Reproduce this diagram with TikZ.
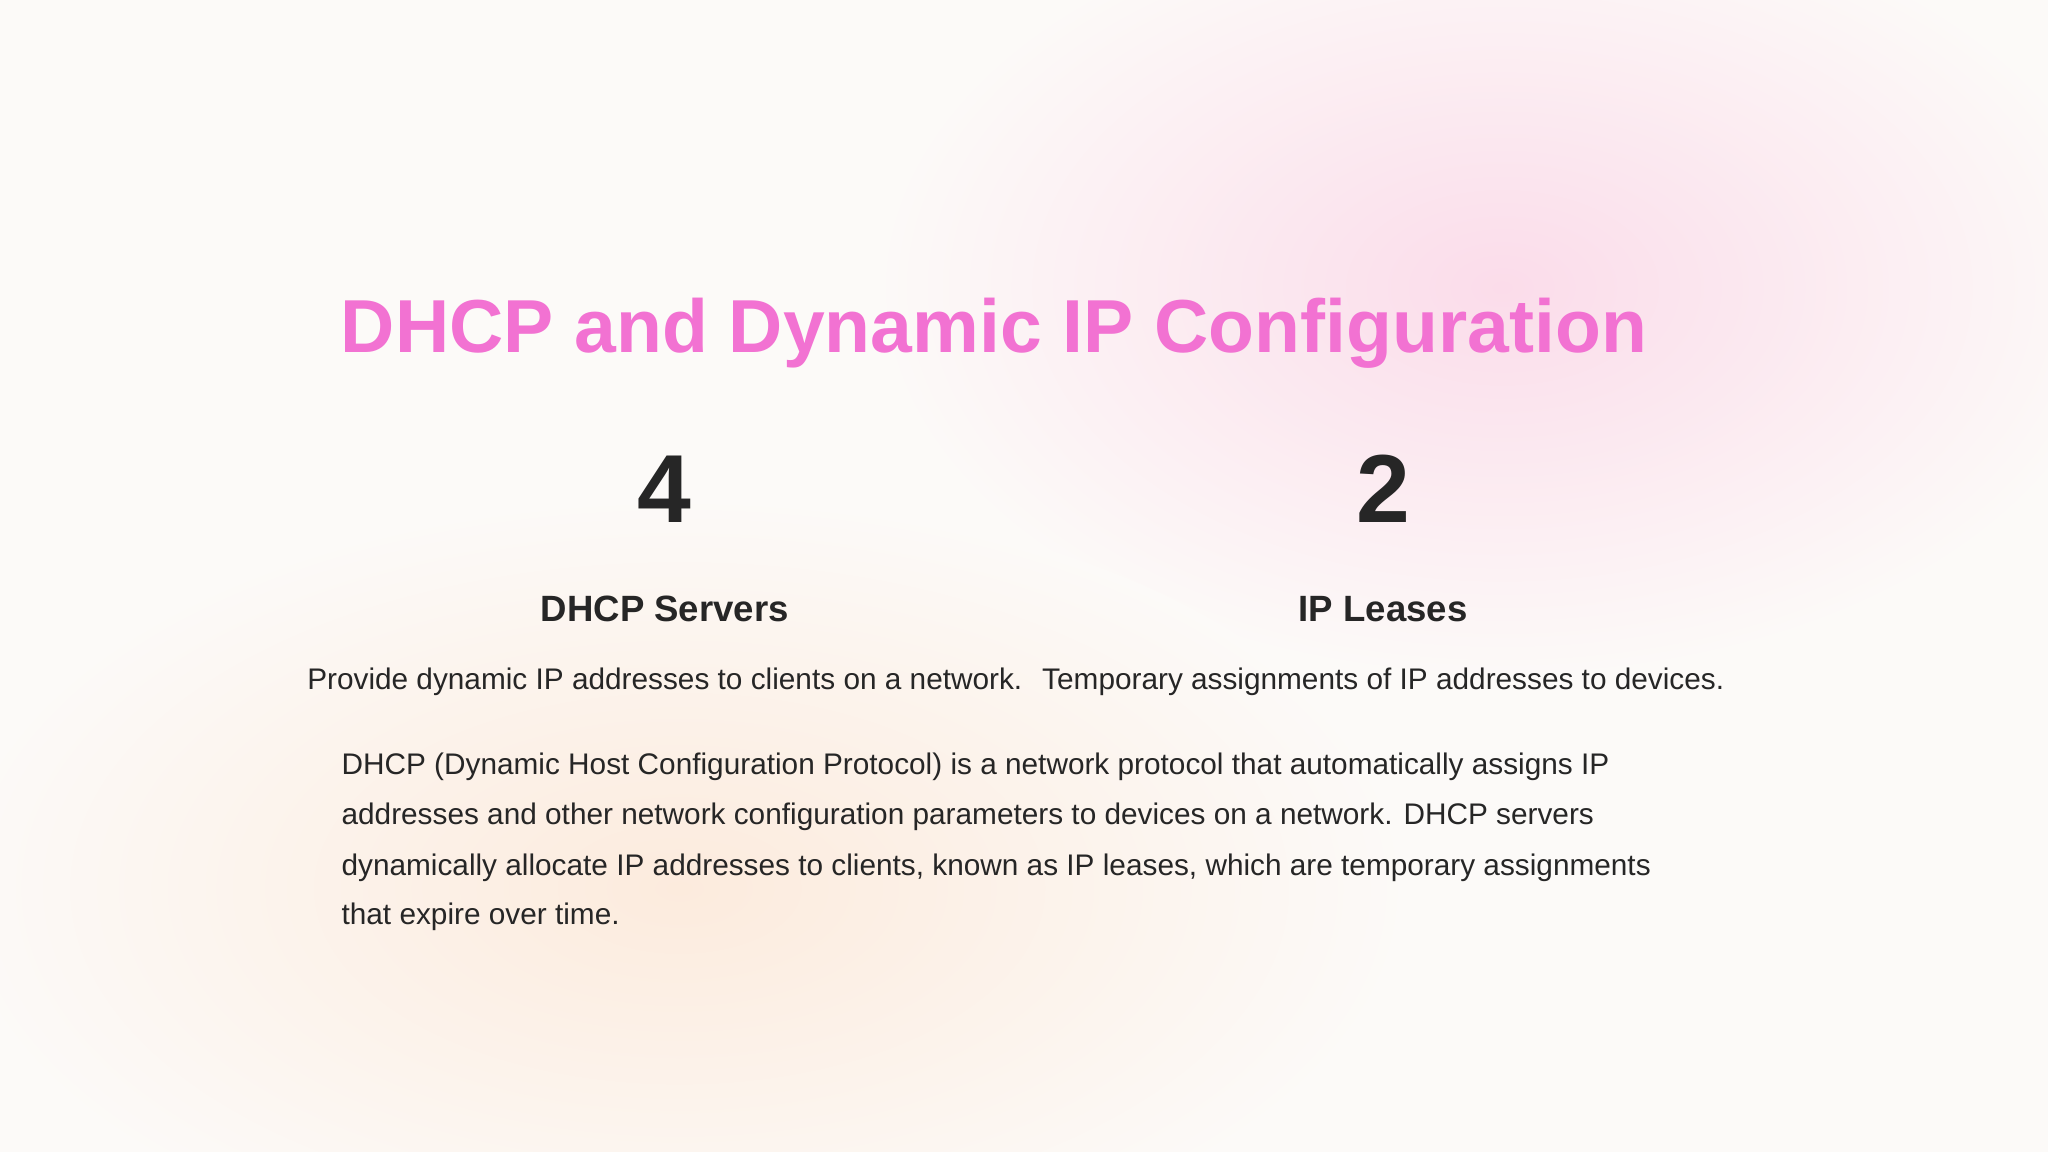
\documentclass[tikz,border=0pt]{standalone}
\usepackage{fontspec}
\setmainfont{Liberation Sans}
\definecolor{bg}{HTML}{FCFAF8}
\definecolor{ttl}{HTML}{F272D2}
\definecolor{ink}{HTML}{262626}
\definecolor{blobpink}{HTML}{FBDCEA}
\definecolor{blobpeach}{HTML}{FCEBDD}
\tikzset{
  bignum/.style={font=\bfseries\fontsize{74}{80}\selectfont,text=ink,anchor=base},
  label/.style={font=\bfseries\fontsize{28}{34}\selectfont,text=ink,anchor=base},
  desc/.style={font=\fontsize{22.8}{26}\selectfont,text=ink,anchor=base},
  para/.style={font=\fontsize{22.8}{26}\selectfont,text=ink,anchor=base west},
}
\begin{document}
\begin{tikzpicture}[x=1pt,y=-1pt]
\useasboundingbox (0,0) rectangle (1568,882);
\fill[bg] (0,0) rectangle (1568,882);
\shade[inner color=blobpink,outer color=bg] (1150,220) ellipse (480 and 300);
\shade[inner color=blobpeach,outer color=bg] (520,680) ellipse (560 and 300);
\node[font=\bfseries\fontsize{57.5}{64}\selectfont,text=ttl,anchor=base] (title) at (761,270) {DHCP and Dynamic IP Configuration};
\node[bignum] (n1) at (509,400) {4};
\node[bignum] (n2) at (1059,400) {2};
\node[label] (l1) at (509,476) {DHCP Servers};
\node[label] (l2) at (1059,476) {IP Leases};
\node[desc] (d1) at (509,528) {Provide dynamic IP addresses to clients on a network.};
\node[desc] (d2) at (1059,528) {Temporary assignments of IP addresses to devices.};
\node[para] (p1) at (258,593) {DHCP (Dynamic Host Configuration Protocol) is a network protocol that automatically assigns IP};
\node[para] (p2) at (258,631) {addresses and other network configuration parameters to devices on a network. DHCP servers};
\node[para] (p3) at (258,670) {dynamically allocate IP addresses to clients, known as IP leases, which are temporary assignments};
\node[para] (p4) at (258,708) {that expire over time.};
\end{tikzpicture}
\end{document}
